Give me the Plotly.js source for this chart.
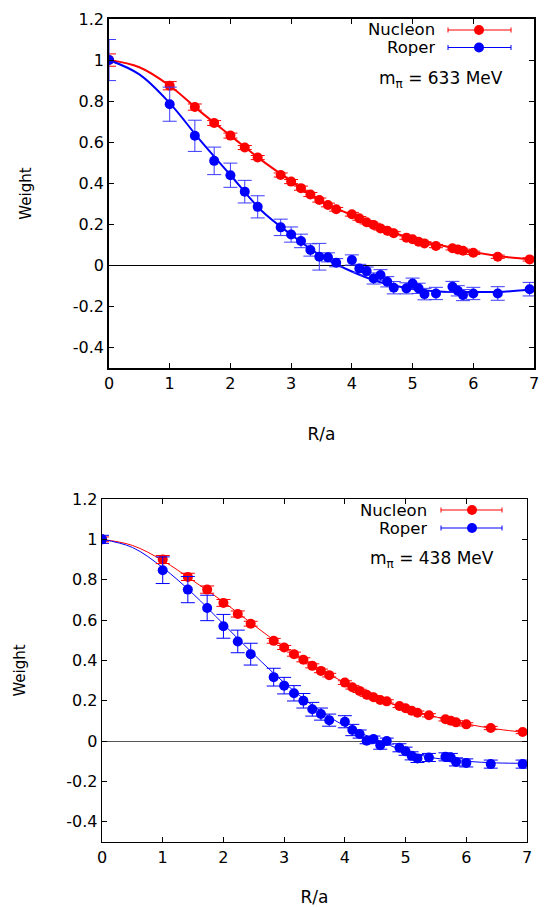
<!DOCTYPE html>
<html><head><meta charset="utf-8">
<script src="https://cdn.plot.ly/plotly-3.0.1.min.js"></script>
<style>html,body{margin:0;padding:0;background:#fff;}#chart{width:545px;height:907px;}</style>
</head><body><div id="chart"></div>
<script>
// Lattice distances R/a
const R = [0, 1, 1.414, 1.732, 2, 2.236, 2.449, 2.828, 3, 3.162, 3.317, 3.464, 3.606, 3.742, 4, 4.123, 4.243, 4.359, 4.472, 4.583, 4.690, 4.899, 5, 5.099, 5.196, 5.385, 5.657, 5.745, 5.831, 6, 6.403, 6.928];

// Top panel: m_pi = 633 MeV
const nucTop = [1.0, 0.875, 0.771, 0.693, 0.632, 0.574, 0.525, 0.44, 0.408, 0.376, 0.345, 0.318, 0.294, 0.273, 0.249, 0.229, 0.21, 0.197, 0.18, 0.169, 0.156, 0.135, 0.127, 0.115, 0.107, 0.094, 0.083, 0.077, 0.071, 0.061, 0.042, 0.029];
const nucTopErr = [0.03, 0.02, 0.015, 0.012, 0.012, 0.01, 0.01, 0.01, 0.01, 0.01, 0.01, 0.01, 0.009, 0.009, 0.009, 0.009, 0.008, 0.008, 0.008, 0.008, 0.008, 0.008, 0.008, 0.008, 0.008, 0.008, 0.008, 0.008, 0.008, 0.008, 0.008, 0.008];
const ropTop = [1.0, 0.785, 0.631, 0.509, 0.439, 0.359, 0.285, 0.185, 0.15, 0.119, 0.075, 0.042, 0.039, 0.013, 0.026, -0.015, -0.028, -0.064, -0.047, -0.08, -0.109, -0.112, -0.088, -0.112, -0.14, -0.137, -0.104, -0.124, -0.145, -0.137, -0.137, -0.116];
const ropTopErr = [0.1, 0.083, 0.076, 0.067, 0.059, 0.055, 0.054, 0.04, 0.037, 0.033, 0.03, 0.065, 0.022, 0.02, 0.025, 0.02, 0.02, 0.027, 0.026, 0.025, 0.03, 0.027, 0.026, 0.025, 0.028, 0.03, 0.026, 0.025, 0.027, 0.03, 0.033, 0.033];

// Bottom panel: m_pi = 438 MeV
const nucBot = [1.0, 0.90, 0.814, 0.751, 0.685, 0.630, 0.582, 0.497, 0.464, 0.431, 0.403, 0.373, 0.348, 0.327, 0.29, 0.267, 0.249, 0.23, 0.217, 0.204, 0.197, 0.174, 0.163, 0.151, 0.141, 0.128, 0.108, 0.101, 0.093, 0.083, 0.065, 0.045];
const nucBotErr = [0.012, 0.02, 0.018, 0.018, 0.017, 0.015, 0.012, 0.012, 0.01, 0.01, 0.01, 0.01, 0.009, 0.009, 0.009, 0.009, 0.008, 0.008, 0.008, 0.008, 0.008, 0.008, 0.008, 0.008, 0.008, 0.008, 0.008, 0.008, 0.008, 0.008, 0.008, 0.008];
const ropBot = [1.0, 0.847, 0.751, 0.66, 0.569, 0.494, 0.431, 0.317, 0.275, 0.237, 0.2, 0.158, 0.134, 0.104, 0.096, 0.055, 0.035, 0.002, 0.01, -0.02, 0.0, -0.033, -0.05, -0.073, -0.086, -0.081, -0.078, -0.081, -0.103, -0.108, -0.114, -0.114];
const ropBotErr = [0.02, 0.066, 0.065, 0.063, 0.059, 0.056, 0.054, 0.044, 0.041, 0.038, 0.036, 0.034, 0.03, 0.03, 0.03, 0.028, 0.02, 0.015, 0.015, 0.02, 0.015, 0.02, 0.02, 0.02, 0.02, 0.02, 0.02, 0.02, 0.02, 0.02, 0.02, 0.02];

// Fit curves
const fitX = [0, 0.5, 1, 1.5, 2, 2.5, 3, 3.5, 4, 4.5, 5, 5.5, 6, 6.5, 7];
const fitNucTop = [1.0, 0.965, 0.875, 0.75, 0.632, 0.515, 0.41, 0.31, 0.245, 0.18, 0.13, 0.095, 0.065, 0.042, 0.028];
const fitRopTop = [1.0, 0.93, 0.79, 0.61, 0.44, 0.27, 0.15, 0.045, -0.03, -0.085, -0.115, -0.128, -0.13, -0.128, -0.118];
const fitNucBot = [1.0, 0.97, 0.895, 0.795, 0.69, 0.575, 0.465, 0.37, 0.29, 0.215, 0.163, 0.12, 0.085, 0.06, 0.042];
const fitRopBot = [1.0, 0.96, 0.86, 0.73, 0.58, 0.43, 0.29, 0.17, 0.075, 0.01, -0.05, -0.085, -0.1, -0.108, -0.11];

const yTicks = [-0.4, -0.2, 0, 0.2, 0.4, 0.6, 0.8, 1, 1.2];
const yTickText = ['-0.4', '-0.2', '0', '0.2', '0.4', '0.6', '0.8', '1', '1.2'];
const xTicks = [0, 1, 2, 3, 4, 5, 6, 7];

const RED = '#ff0000', BLUE = '#0000ff';
const W = 545, H = 907;
const px = v => v / W, py = v => 1 - v / H;

function fit(x, y, c, w, xa, ya) {
  return {x: x, y: y, xaxis: xa, yaxis: ya, mode: 'lines', line: {color: c, width: w, shape: 'spline', smoothing: 1}, hoverinfo: 'skip'};
}
function pts(x, y, e, c, ec, xa, ya) {
  return {x: x, y: y, xaxis: xa, yaxis: ya, mode: 'markers', marker: {color: c, size: 10},
    error_y: {type: 'data', array: e, visible: true, color: ec, thickness: 1, width: 7}};
}

const data = [
  fit(fitX, fitNucTop, RED, 2, 'x', 'y'),
  fit(fitX, fitRopTop, BLUE, 2, 'x', 'y'),
  pts(R, nucTop, nucTopErr, RED, RED, 'x', 'y'),
  pts(R, ropTop, ropTopErr, BLUE, '#3a3aff', 'x', 'y'),
  fit(fitX, fitNucBot, RED, 1, 'x2', 'y2'),
  fit(fitX, fitRopBot, BLUE, 1, 'x2', 'y2'),
  pts(R, nucBot, nucBotErr, RED, RED, 'x2', 'y2'),
  pts(R, ropBot, ropBotErr, BLUE, BLUE, 'x2', 'y2')
];

const FONT = 'DejaVu Sans, Liberation Sans, Arial, sans-serif';
function xax(dom, anchor, so, lw) {
  return {domain: dom, anchor: anchor, range: [0, 7], tickvals: xTicks, ticks: 'inside', ticklen: 5, tickcolor: '#000',
    showline: true, linecolor: '#000', linewidth: lw, mirror: 'allticks', showgrid: false, zeroline: false,
    tickfont: {family: FONT, size: 16, color: '#000'}, title: {text: 'R/a', font: {family: FONT, size: 17, color: '#000'}, standoff: so}};
}
function yax(dom, anchor, zc, zw, lw) {
  return {domain: dom, anchor: anchor, range: [-0.5, 1.2], tickvals: yTicks, ticktext: yTickText, ticks: 'inside', ticklen: 5, tickcolor: '#000',
    showline: true, linecolor: '#000', linewidth: lw, mirror: 'allticks', showgrid: false,
    zeroline: true, zerolinecolor: zc, zerolinewidth: zw,
    tickfont: {family: FONT, size: 16, color: '#000'}, title: {text: 'Weight', font: {family: FONT, size: 15, color: '#000'}, standoff: 37}};
}

const shapes = [], annotations = [];
function legendEntry(xText, y, xs0, xs1, xm, c, label) {
  annotations.push({xref: 'paper', yref: 'paper', x: px(xText), y: py(y), xanchor: 'right', yanchor: 'middle', showarrow: false,
    text: label, height: 17, borderpad: 0, valign: 'middle', font: {family: FONT, size: 16.5, color: '#000'}});
  shapes.push({type: 'line', xref: 'paper', yref: 'paper', x0: px(xs0), x1: px(xs1), y0: py(y), y1: py(y), line: {color: c, width: 1}});
  shapes.push({type: 'line', xref: 'paper', yref: 'paper', x0: px(xs0), x1: px(xs0), y0: py(y - 2.5), y1: py(y + 2.5), line: {color: c, width: 1}});
  shapes.push({type: 'line', xref: 'paper', yref: 'paper', x0: px(xs1), x1: px(xs1), y0: py(y - 2.5), y1: py(y + 2.5), line: {color: c, width: 1}});
  shapes.push({type: 'circle', xref: 'paper', yref: 'paper', x0: px(xm - 5), x1: px(xm + 5), y0: py(y - 5), y1: py(y + 5), fillcolor: c, line: {color: c, width: 0}});
}
legendEntry(436, 30, 448, 511, 479, RED, 'Nucleon');
legendEntry(436, 47.5, 448, 511, 479, BLUE, 'Roper');
annotations.push({xref: 'paper', yref: 'paper', x: px(505), y: py(79), xanchor: 'right', yanchor: 'middle', showarrow: false,
  text: 'm<sub>π</sub> = 633 MeV', font: {family: FONT, size: 17, color: '#000'}});
legendEntry(428, 510, 441, 502, 472, RED, 'Nucleon');
legendEntry(428, 528, 441, 502, 472, BLUE, 'Roper');
annotations.push({xref: 'paper', yref: 'paper', x: px(496), y: py(559), xanchor: 'right', yanchor: 'middle', showarrow: false,
  text: 'm<sub>π</sub> = 438 MeV', font: {family: FONT, size: 17, color: '#000'}});

const layout = {
  width: W, height: H, margin: {l: 0, r: 0, t: 0, b: 0}, showlegend: false,
  paper_bgcolor: '#fff', plot_bgcolor: '#fff',
  xaxis: xax([109 / W, 534 / W], 'y', 36, 1.8),
  yaxis: yax([1 - 368 / H, 1 - 19 / H], 'x', '#000', 1.5, 1.8),
  xaxis2: xax([102 / W, 527 / W], 'y2', 33, 1.3),
  yaxis2: yax([1 - 842 / H, 1 - 499 / H], 'x2', '#555', 1.2, 1.3),
  shapes: shapes, annotations: annotations
};
Plotly.newPlot('chart', data, layout, {staticPlot: true, displayModeBar: false});
</script></body></html>
